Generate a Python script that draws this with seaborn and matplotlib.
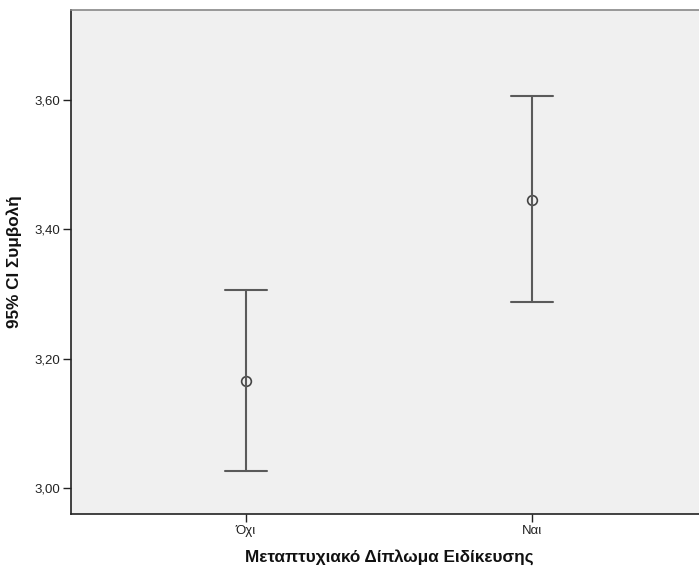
import matplotlib
matplotlib.use("Agg")
import matplotlib.pyplot as plt
import seaborn as sns
import pandas as pd

# group labels and 95% CI (lower, mean, upper)
groups = ["Όχι", "Ναι"]
ci_lower = [3.026, 3.287]
means = [3.166, 3.446]
ci_upper = [3.307, 3.606]
y_ticks = [3.00, 3.20, 3.40, 3.60]

rows = []
for g, lo, m, hi in zip(groups, ci_lower, means, ci_upper):
    for v in (lo, m, hi):
        rows.append({"group": g, "value": v})
df = pd.DataFrame(rows)

sns.set_style("ticks")
plt.rcParams["font.family"] = ["Liberation Sans", "DejaVu Sans"]

fig = plt.figure(figsize=(6.99, 5.72), dpi=100)
ax = fig.add_axes([0.1016, 0.1014, 0.9099, 0.8811])
ax.set_facecolor("#f0f0f0")

sns.pointplot(data=df, x="group", y="value", order=groups,
              estimator="median", errorbar=lambda v: (v.min(), v.max()),
              linestyle="none", marker="o", markersize=7,
              markerfacecolor="none", markeredgewidth=1.2,
              color="#444444", capsize=0.15,
              err_kws={"linewidth": 1.5, "color": "#5a5a5a"}, ax=ax)

ax.set_xlim(-0.612, 1.612)
ax.set_ylim(2.960, 3.739)
ax.set_yticks(y_ticks)
ax.set_yticklabels([f"{t:.2f}".replace(".", ",") for t in y_ticks])

for side in ["left", "bottom"]:
    ax.spines[side].set_color("#222222")
    ax.spines[side].set_linewidth(1.2)
for side in ["top", "right"]:
    ax.spines[side].set_visible(True)
    ax.spines[side].set_color("#888888")
    ax.spines[side].set_linewidth(1.2)

ax.tick_params(axis="both", direction="out", length=6, width=1,
               color="#222222", labelsize=9.5, labelcolor="#222222", pad=2)
ax.set_xlabel("Μεταπτυχιακό Δίπλωμα Ειδίκευσης", fontsize=12.3,
              fontweight="bold", labelpad=9, color="#111111")
ax.set_ylabel("95% CI Συμβολή", fontsize=12.3, fontweight="bold",
              labelpad=9, color="#111111")

fig.savefig("out.png", dpi=100)
